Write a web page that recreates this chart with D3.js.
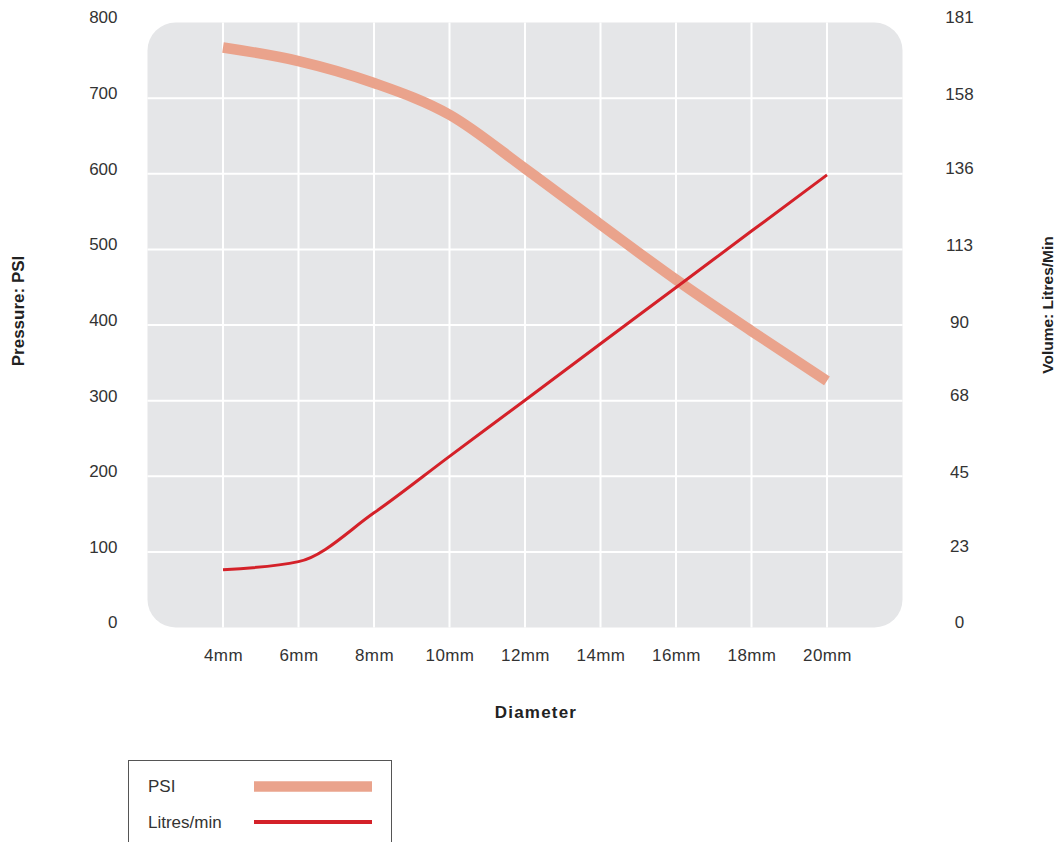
<!DOCTYPE html>
<html>
<head>
<meta charset="utf-8">
<script src="https://cdn.jsdelivr.net/npm/d3@7"></script>
<style>
  html, body { margin: 0; padding: 0; background: #fff; }
  svg { display: block; font-family: "Liberation Sans", Arial, Helvetica, sans-serif; }
</style>
</head>
<body>
<svg id="chart" width="1060" height="842"></svg>
<script>
// ---- data ----
const categories = ["4mm", "6mm", "8mm", "10mm", "12mm", "14mm", "16mm", "18mm", "20mm"];
const psiValues = [767, 749, 720, 678, 607, 533, 460, 392, 326];
const litresValues = [17.3, 19.7, 34.3, 51.2, 68, 84.9, 101.7, 118.6, 135.4];
const leftTicks = [0, 100, 200, 300, 400, 500, 600, 700, 800];
const rightTicks = [0, 23, 45, 68, 90, 113, 136, 158, 181];
const seriesNames = ["PSI", "Litres/min"];

// ---- layout ----
const svg = d3.select("#chart");
const plot = { left: 147.5, right: 902.5, top: 22.5, bottom: 627.5 };
const fontSize = 17;
const textColor = "#333";
const psiColor = "#EAA38C";
const litColor = "#D42129";

const x = d3.scalePoint().domain(categories).range([plot.left, plot.right]).padding(1);
const yL = d3.scaleLinear().domain([0, 800]).range([plot.bottom, plot.top]);
const yR = d3.scaleLinear().domain([0, 181]).range([plot.bottom, plot.top]);

// background
svg.append("rect")
  .attr("x", plot.left).attr("y", plot.top)
  .attr("width", plot.right - plot.left).attr("height", plot.bottom - plot.top)
  .attr("rx", 28).attr("ry", 28)
  .attr("fill", "#E5E6E8");

// gridlines
const grid = svg.append("g");
grid.selectAll("line.h").data(leftTicks.filter(d => d > 0 && d < 800)).enter().append("line")
  .attr("x1", plot.left).attr("x2", plot.right)
  .attr("y1", d => yL(d)).attr("y2", d => yL(d))
  .attr("stroke", "#fff").attr("stroke-width", 2);
grid.selectAll("line.v").data(categories).enter().append("line")
  .attr("x1", d => x(d)).attr("x2", d => x(d))
  .attr("y1", plot.top).attr("y2", plot.bottom)
  .attr("stroke", "#fff").attr("stroke-width", 2);

// axes
const axL = svg.append("g").attr("transform", `translate(${plot.left},0)`)
  .call(d3.axisLeft(yL).tickValues(leftTicks).tickSize(0).tickPadding(30));
const axR = svg.append("g").attr("transform", `translate(${plot.right},0)`)
  .call(d3.axisRight(yR).tickValues(rightTicks).tickSize(0));
const axB = svg.append("g").attr("transform", `translate(0,${plot.bottom})`)
  .call(d3.axisBottom(x).tickSize(0));
[axL, axR, axB].forEach(a => {
  a.select(".domain").remove();
  a.selectAll("text").attr("fill", textColor).style("font-size", fontSize + "px")
    .style("font-family", '"Liberation Sans", Arial, sans-serif');
});
axL.selectAll("text").attr("y", -5);
axR.selectAll("text").attr("x", 57).attr("y", -5).attr("text-anchor", "middle");
axB.selectAll("text").attr("y", 28).attr("dy", "0.32em").style("letter-spacing", "0.4px");

// axis titles
svg.append("text").attr("x", 536).attr("y", 712).attr("dy", "0.35em")
  .attr("text-anchor", "middle").attr("font-weight", "bold").attr("font-size", 17)
  .style("letter-spacing", "1.2px")
  .attr("fill", "#222").text("Diameter");
svg.append("text").attr("transform", "translate(18,311) rotate(-90)").attr("dy", "0.35em")
  .attr("text-anchor", "middle").attr("font-weight", "bold").attr("font-size", 17)
  .attr("fill", "#222").text("Pressure: PSI");
svg.append("text").attr("transform", "translate(1048,305) rotate(-90)").attr("dy", "0.35em")
  .attr("text-anchor", "middle").attr("font-weight", "bold").attr("font-size", 15.5)
  .attr("fill", "#222").text("Volume: Litres/Min");

// lines
const psiLine = d3.line().x((d, i) => x(categories[i])).y(d => yL(d)).curve(d3.curveMonotoneX);
const litLine = d3.line().x((d, i) => x(categories[i])).y(d => yR(d)).curve(d3.curveMonotoneX);
svg.append("path").datum(psiValues).attr("d", psiLine)
  .attr("fill", "none").attr("stroke", psiColor).attr("stroke-width", 10.5);
svg.append("path").datum(litresValues).attr("d", litLine)
  .attr("fill", "none").attr("stroke", litColor).attr("stroke-width", 3);

// legend
const lg = svg.append("g");
lg.append("rect").attr("x", 128.5).attr("y", 760.5).attr("width", 263).attr("height", 110)
  .attr("fill", "#fff").attr("stroke", "#555").attr("stroke-width", 1);
const legendItems = [
  { name: seriesNames[0], color: psiColor, w: 10.5, y: 786.5 },
  { name: seriesNames[1], color: litColor, w: 4, y: 822 }
];
legendItems.forEach(it => {
  lg.append("text").attr("x", 148).attr("y", it.y).attr("dy", "0.35em")
    .attr("font-size", fontSize).attr("fill", textColor).text(it.name);
  lg.append("line").attr("x1", 254).attr("x2", 372).attr("y1", it.y).attr("y2", it.y)
    .attr("stroke", it.color).attr("stroke-width", it.w);
});
</script>
</body>
</html>
